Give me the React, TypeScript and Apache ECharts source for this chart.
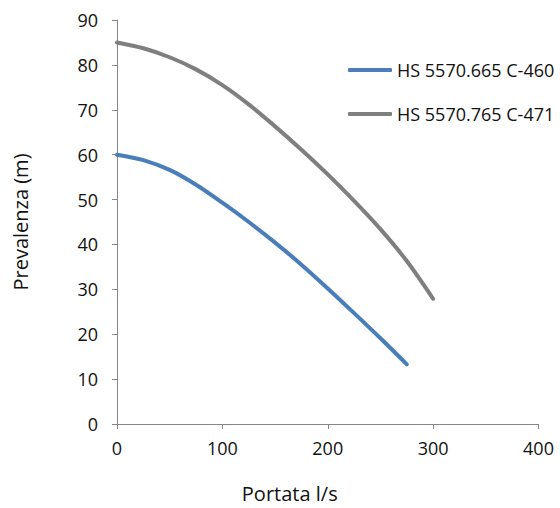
import React, { useEffect, useRef } from "react";
import * as echarts from "echarts";

const seriesNames = ["HS 5570.665 C-460", "HS 5570.765 C-471"];
const flowA = [0, 25, 50, 75, 100, 125, 150, 175, 200, 225, 250, 275];
const headA = [60, 58.8, 56.6, 53.3, 49.3, 45.0, 40.4, 35.5, 30.2, 24.7, 19.1, 13.3];
const flowB = [0, 25, 50, 75, 100, 125, 150, 175, 200, 225, 250, 275, 300];
const headB = [85, 83.7, 81.7, 79.0, 75.5, 71.2, 66.3, 61.1, 55.6, 49.7, 43.4, 36.3, 27.9];
const xTicks = { min: 0, max: 400, interval: 100 };
const yTicks = { min: 0, max: 90, interval: 10 };
const xTitle = "Portata l/s";
const yTitle = "Prevalenza (m)";

const FONT = "Open Sans";
const TXT = "#111111";
const AXIS = "#868686";
const colors = ["#4a7ebb", "#7f7f7f"];

export default function App() {
  const ref = useRef<HTMLDivElement>(null);
  useEffect(() => {
    if (!ref.current) return;
    const chart = echarts.init(ref.current, undefined, { renderer: "svg" });
    const axisCommon = {
      axisLine: { show: true, lineStyle: { color: AXIS, width: 1 } },
      axisTick: { show: true, inside: false, length: 5, lineStyle: { color: AXIS } },
      splitLine: { show: false },
    };
    chart.setOption({
      animation: false,
      color: colors,
      textStyle: { fontFamily: FONT },
      grid: { left: 117, top: 20, width: 421.5, height: 404, containLabel: false },
      legend: {
        orient: "vertical",
        left: 348,
        top: 61,
        padding: 0,
        itemGap: 26,
        itemWidth: 44,
        itemHeight: 4,
        icon: "roundRect",
        data: seriesNames,
        textStyle: { fontFamily: FONT, fontSize: 18, color: TXT, lineHeight: 18 },
      },
      xAxis: {
        type: "value",
        min: xTicks.min,
        max: xTicks.max,
        interval: xTicks.interval,
        ...axisCommon,
        axisLabel: { fontFamily: FONT, fontSize: 18, color: TXT, margin: 15 },
        name: xTitle,
        nameLocation: "middle",
        nameGap: 59,
        nameTextStyle: { fontFamily: FONT, fontSize: 20, color: TXT, padding: [0, 76, 0, 0] },
      },
      yAxis: {
        type: "value",
        min: yTicks.min,
        max: yTicks.max,
        interval: yTicks.interval,
        ...axisCommon,
        axisLabel: { fontFamily: FONT, fontSize: 18, color: TXT, margin: 19 },
        name: yTitle,
        nameLocation: "middle",
        nameGap: 87,
        nameTextStyle: { fontFamily: FONT, fontSize: 20, color: TXT },
      },
      series: [
        {
          name: seriesNames[0],
          type: "line",
          smooth: 0.3,
          showSymbol: false,
          symbol: "none",
          lineStyle: { width: 4, color: colors[0], cap: "round" },
          data: flowA.map((x, i) => [x, headA[i]]),
        },
        {
          name: seriesNames[1],
          type: "line",
          smooth: 0.3,
          showSymbol: false,
          symbol: "none",
          lineStyle: { width: 4, color: colors[1], cap: "round" },
          data: flowB.map((x, i) => [x, headB[i]]),
        },
      ],
    });
    return () => chart.dispose();
  }, []);
  return (
    <div
      ref={ref}
      style={{ position: "absolute", left: 0, top: 0, width: 560, height: 508, background: "#fff" }}
    />
  );
}
